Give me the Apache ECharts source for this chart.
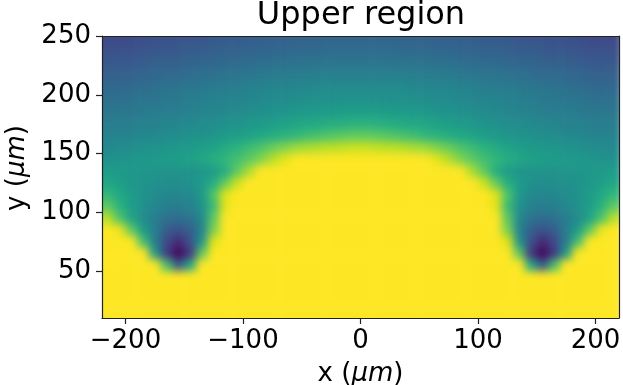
<!DOCTYPE html>
<html>
<head>
<meta charset="utf-8">
<script src="https://cdn.jsdelivr.net/npm/echarts@6/dist/echarts.min.js"></script>
<style>
html,body{margin:0;padding:0;background:#fff;}
#wrap{position:relative;width:623px;height:385px;overflow:hidden;}
#heatClip{position:absolute;left:102px;top:36px;width:517px;height:282px;overflow:hidden;}
#heat{position:absolute;left:-102px;top:-36px;width:623px;height:385px;filter:blur(4px);}
#chart{position:absolute;left:0;top:0;width:623px;height:385px;}
</style>
</head>
<body>
<div id="wrap">
  <div id="heatClip"><div id="heat"></div></div>
  <div id="chart"></div>
</div>
<script>
// Cell centres (µm)
const xCells = [-215,-205,-195,-185,-175,-165,-155,-145,-135,-125,-115,-105,-95,-85,-75,-65,-55,-45,-35,-25,-15,-5,
                5,15,25,35,45,55,65,75,85,95,105,115,125,135,145,155,165,175,185,195,205,215];
const yCells = [245,235,225,215,205,195,185,175,165,155,145,135,125,115,105,95,85,75,65,55,45,35,25,15];
// Field level (0..100, colour-scale fraction, saturated at 100), one row per yCells entry
const fieldRows = [
[22,23,23,24,25,25,26,27,27,28,29,29,30,30,31,31,32,32,32,33,33,33,33,33,33,32,32,32,31,31,30,30,29,29,28,27,27,26,25,25,24,23,23,22],
[25,26,26,27,28,28,29,30,30,31,32,32,33,33,34,34,35,35,35,36,36,36,36,36,36,35,35,35,34,34,33,33,32,32,31,30,30,29,28,28,27,26,26,25],
[28,28,29,30,31,31,32,33,34,34,35,36,36,37,38,38,39,39,39,40,40,40,40,40,40,39,39,39,38,38,37,36,36,35,34,34,33,32,31,31,30,29,28,28],
[31,31,32,33,34,35,35,36,37,38,39,39,40,41,42,42,43,43,44,44,44,44,44,44,44,44,43,43,42,42,41,40,39,39,38,37,36,35,35,34,33,32,31,31],
[34,34,35,36,37,38,39,40,41,42,42,43,44,45,46,46,47,47,48,48,48,48,48,48,48,48,47,47,46,46,45,44,43,42,42,41,40,39,38,37,36,35,34,34],
[37,37,38,39,39,40,41,42,43,44,45,45,46,47,48,48,49,50,50,50,51,51,51,51,50,50,50,49,48,48,47,46,45,45,44,43,42,41,40,39,39,38,37,37],
[39,40,40,41,42,43,43,44,45,46,47,48,49,50,51,52,53,54,55,55,56,56,56,56,55,55,54,53,52,51,50,49,48,47,46,45,44,43,43,42,41,40,40,39],
[42,42,43,44,44,45,46,47,48,49,50,51,53,54,56,57,59,60,61,62,63,64,64,63,62,61,60,59,57,56,54,53,51,50,49,48,47,46,45,44,44,43,42,42],
[44,45,45,46,47,48,49,50,51,52,54,56,58,60,62,64,66,69,71,73,75,76,76,75,73,71,69,66,64,62,60,58,56,54,52,51,50,49,48,47,46,45,45,44],
[47,48,49,50,51,52,53,54,56,58,61,64,68,72,77,81,85,87,89,90,91,92,92,91,90,89,87,85,81,77,72,68,64,61,58,56,54,53,52,51,50,49,48,47],
[50,51,52,53,54,55,56,57,59,62,66,70,75,81,89,96,100,100,100,100,100,100,100,100,100,100,100,100,96,89,81,75,70,66,62,59,57,56,55,54,53,52,51,50],
[55,54,53,52,52,51,51,51,52,55,62,75,87,100,100,100,100,100,100,100,100,100,100,100,100,100,100,100,100,100,100,87,75,62,55,52,51,51,51,52,52,53,54,55],
[59,56,53,51,50,49,49,50,55,62,76,92,100,100,100,100,100,100,100,100,100,100,100,100,100,100,100,100,100,100,100,100,92,76,62,55,50,49,49,50,51,53,56,59],
[66,60,55,51,48,46,46,47,53,72,95,100,100,100,100,100,100,100,100,100,100,100,100,100,100,100,100,100,100,100,100,100,100,95,72,53,47,46,46,48,51,55,60,66],
[75,64,56,50,46,43,42,44,50,68,96,100,100,100,100,100,100,100,100,100,100,100,100,100,100,100,100,100,100,100,100,100,100,96,68,50,44,42,43,46,50,56,64,75],
[89,72,58,48,42,37,36,38,47,75,100,100,100,100,100,100,100,100,100,100,100,100,100,100,100,100,100,100,100,100,100,100,100,100,75,47,38,36,37,42,48,58,72,89],
[100,97,75,55,42,30,25,30,45,80,100,100,100,100,100,100,100,100,100,100,100,100,100,100,100,100,100,100,100,100,100,100,100,100,80,45,30,25,30,42,55,75,97,100],
[100,100,100,70,43,22,12,25,52,95,100,100,100,100,100,100,100,100,100,100,100,100,100,100,100,100,100,100,100,100,100,100,100,100,95,52,25,12,22,43,70,100,100,100],
[100,100,100,100,55,18,2,17,75,100,100,100,100,100,100,100,100,100,100,100,100,100,100,100,100,100,100,100,100,100,100,100,100,100,100,75,17,2,18,55,100,100,100,100],
[100,100,100,100,100,70,28,60,100,100,100,100,100,100,100,100,100,100,100,100,100,100,100,100,100,100,100,100,100,100,100,100,100,100,100,100,60,28,70,100,100,100,100,100],
[100,100,100,100,100,100,100,100,100,100,100,100,100,100,100,100,100,100,100,100,100,100,100,100,100,100,100,100,100,100,100,100,100,100,100,100,100,100,100,100,100,100,100,100],
[100,100,100,100,100,100,100,100,100,100,100,100,100,100,100,100,100,100,100,100,100,100,100,100,100,100,100,100,100,100,100,100,100,100,100,100,100,100,100,100,100,100,100,100],
[100,100,100,100,100,100,100,100,100,100,100,100,100,100,100,100,100,100,100,100,100,100,100,100,100,100,100,100,100,100,100,100,100,100,100,100,100,100,100,100,100,100,100,100],
[100,100,100,100,100,100,100,100,100,100,100,100,100,100,100,100,100,100,100,100,100,100,100,100,100,100,100,100,100,100,100,100,100,100,100,100,100,100,100,100,100,100,100,100]
];
const xTicks = [-200,-100,0,100,200];
const yTicks = [50,100,150,200,250];
const titleText = 'Upper region';

const CELL_W = 10, CELL_H = 10;
const X_MIN = -220, X_MAX = 220, Y_MIN = 10, Y_MAX = 250;
const viridis = ['#440154','#471063','#482475','#46337f','#414487','#3b528b','#355f8d','#2f6c8e','#2a788e','#25848e',
  '#21918c','#1e9c89','#22a884','#2fb47c','#44bf70','#5ec962','#7ad151','#9fda3a','#bddf26','#dfe318','#fde725'];

const data = [];
yCells.forEach((y, j) => {
  xCells.forEach((x, i) => { data.push([x, y, fieldRows[j][i]]); });
});

const FONT = 'DejaVu Sans';
const makeGrid = () => ({left: 102, right: 4, top: 36, bottom: 67, containLabel: false, outerBoundsMode: 'none'});
const fmtMinus = v => String(v).replace('-', '\u2212');

// ---- field layer (blurred to smooth the cell grid) ----
const heat = echarts.init(document.getElementById('heat'), null, {renderer: 'canvas'});
heat.setOption({
  animation: false,
  grid: makeGrid(),
  visualMap: {show: false, type: 'continuous', min: 0, max: 100, dimension: 2, seriesIndex: 0, inRange: {color: viridis}},
  xAxis: {type: 'value', min: X_MIN, max: X_MAX, show: false},
  yAxis: {type: 'value', min: Y_MIN, max: Y_MAX, show: false},
  series: [{
    type: 'custom', clip: false, data: data, encode: {x: 0, y: 1},
    renderItem: function (params, api) {
      const x = api.value(0), y = api.value(1);
      const p0 = api.coord([x - CELL_W / 2, y + CELL_H / 2]);
      const p1 = api.coord([x + CELL_W / 2, y - CELL_H / 2]);
      let x0 = p0[0], y0 = p0[1], x1 = p1[0] + 0.6, y1 = p1[1] + 0.6;
      // let edge cells run past the plot frame so the smoothing does not fade at the border
      if (x - CELL_W / 2 <= X_MIN) x0 -= 20;
      if (x + CELL_W / 2 >= X_MAX) x1 += 20;
      if (y + CELL_H / 2 >= Y_MAX) y0 -= 20;
      if (y - CELL_H / 2 <= Y_MIN) y1 += 20;
      return {type: 'rect', shape: {x: x0, y: y0, width: x1 - x0, height: y1 - y0}, style: {fill: api.visual('color')}};
    }
  }]
});

// ---- axes / text layer ----
const axisLineStyle = {color: '#222', width: 1.2};
const chart = echarts.init(document.getElementById('chart'), null, {renderer: 'canvas'});
chart.setOption({
  animation: false,
  backgroundColor: 'transparent',
  title: {
    text: titleText, left: 361, top: 0, textAlign: 'center', padding: 0,
    textStyle: {fontFamily: FONT, fontSize: 32, fontWeight: 'normal', color: '#000'}
  },
  grid: makeGrid(),
  xAxis: [{
    type: 'value', position: 'bottom', min: X_MIN, max: X_MAX,
    name: 'x ({i|μm})', nameLocation: 'middle', nameGap: 43,
    nameTextStyle: {fontFamily: FONT, fontSize: 26, color: '#000',
      rich: {i: {fontFamily: FONT, fontSize: 26, fontStyle: 'italic', color: '#000'}}},
    axisLine: {show: true, onZero: false, lineStyle: axisLineStyle},
    axisTick: {show: true, length: 6, lineStyle: axisLineStyle, customValues: xTicks},
    axisLabel: {show: true, margin: 10, fontFamily: FONT, fontSize: 26, color: '#000', customValues: xTicks, formatter: fmtMinus},
    splitLine: {show: false}
  }, {
    type: 'value', position: 'top', min: X_MIN, max: X_MAX,
    axisLine: {show: true, onZero: false, lineStyle: axisLineStyle},
    axisTick: {show: false}, axisLabel: {show: false}, splitLine: {show: false}
  }],
  yAxis: [{
    type: 'value', position: 'left', min: Y_MIN, max: Y_MAX,
    name: 'y ({i|μm})', nameLocation: 'middle', nameGap: 72,
    nameTextStyle: {fontFamily: FONT, fontSize: 26, color: '#000', padding: [0, 0, 0, 18],
      rich: {i: {fontFamily: FONT, fontSize: 26, fontStyle: 'italic', color: '#000'}}},
    axisLine: {show: true, onZero: false, lineStyle: axisLineStyle},
    axisTick: {show: true, length: 6, lineStyle: axisLineStyle, customValues: yTicks},
    axisLabel: {show: true, margin: 11, fontFamily: FONT, fontSize: 26, color: '#000', customValues: yTicks},
    splitLine: {show: false}
  }, {
    type: 'value', position: 'right', min: Y_MIN, max: Y_MAX,
    axisLine: {show: true, onZero: false, lineStyle: axisLineStyle},
    axisTick: {show: false}, axisLabel: {show: false}, splitLine: {show: false}
  }],
  series: []
});
</script>
</body>
</html>
